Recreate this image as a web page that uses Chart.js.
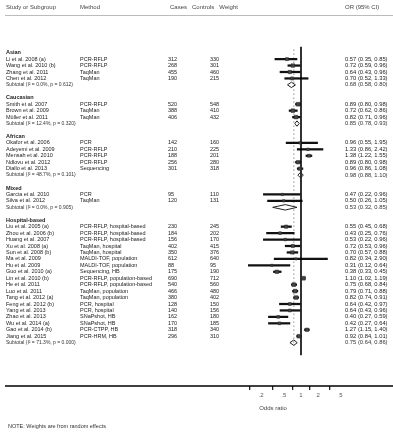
<!DOCTYPE html>
<html><head><meta charset="utf-8">
<script src="https://cdn.jsdelivr.net/npm/chart.js@4.4.1/dist/chart.umd.min.js"></script>
<style>html,body{margin:0;padding:0;background:#fff;}#wrap{width:393px;height:434px;position:relative;}</style>
</head><body><div id="wrap"><canvas id="c" width="393" height="434"></canvas></div>
<script>
const groupNames = ['Asian', 'Caucasian', 'African', 'Mixed', 'Hospital-based'];
const groupSizes = [4, 3, 5, 2, 18];
const studyNames = [
  'Li et al. 2008 (a)', 'Wang et al. 2010 (b)', 'Zhang et al. 2011', 'Chen et al. 2012',
  'Smith et al. 2007', 'Brown et al. 2009', 'Müller et al. 2011',
  'Okafor et al. 2006', 'Adeyemi et al. 2009', 'Mensah et al. 2010', 'Ndlovu et al. 2012', 'Diallo et al. 2013',
  'Garcia et al. 2010', 'Silva et al. 2012',
  'Liu et al. 2005 (a)', 'Zhou et al. 2006 (b)', 'Huang et al. 2007', 'Xu et al. 2008 (a)', 'Sun et al. 2008 (b)', 'Ma et al. 2009',
  'Hu et al. 2009', 'Guo et al. 2010 (a)', 'Lin et al. 2010 (b)', 'He et al. 2011', 'Luo et al. 2011', 'Tang et al. 2012 (a)',
  'Feng et al. 2012 (b)', 'Yang et al. 2013', 'Zhao et al. 2013', 'Wu et al. 2014 (a)', 'Gao et al. 2014 (b)', 'Jiang et al. 2015'
];
const methods = [
  'PCR-RFLP', 'PCR-RFLP', 'TaqMan', 'TaqMan',
  'PCR-RFLP', 'TaqMan', 'TaqMan',
  'PCR', 'PCR-RFLP', 'PCR-RFLP', 'PCR-RFLP', 'Sequencing',
  'PCR', 'TaqMan',
  'PCR-RFLP, hospital-based', 'PCR-RFLP, hospital-based', 'PCR-RFLP, hospital-based', 'TaqMan, hospital',
  'TaqMan, hospital', 'MALDI-TOF, population', 'MALDI-TOF, population', 'Sequencing, HB',
  'PCR-RFLP, population-based', 'PCR-RFLP, population-based', 'TaqMan, population', 'TaqMan, population',
  'PCR, hospital', 'PCR, hospital', 'SNaPshot, HB', 'SNaPshot, HB', 'PCR-CTPP, HB', 'PCR-HRM, HB'
];
const cases = [312, 268, 455, 190, 520, 388, 406, 142, 210, 188, 256, 301, 95, 120,
  230, 184, 156, 402, 350, 612, 88, 175, 690, 540, 466, 380, 128, 140, 162, 170, 318, 296];
const controls = [330, 301, 460, 215, 548, 410, 432, 160, 225, 201, 280, 318, 110, 131,
  245, 202, 170, 415, 376, 640, 95, 190, 712, 560, 480, 402, 150, 156, 180, 185, 340, 310];
const oddsRatio = [0.57, 0.72, 0.64, 0.70, 0.89, 0.72, 0.82, 0.96, 1.33, 1.38, 0.89, 0.96, 0.47, 0.50,
  0.55, 0.43, 0.53, 0.72, 0.70, 0.82, 0.31, 0.38, 1.10, 0.75, 0.79, 0.82, 0.64, 0.64, 0.40, 0.42, 1.27, 0.92];
const ciLow = [0.35, 0.59, 0.43, 0.52, 0.80, 0.62, 0.71, 0.55, 0.86, 1.22, 0.80, 0.86, 0.22, 0.26,
  0.45, 0.25, 0.22, 0.53, 0.57, 0.34, 0.12, 0.33, 1.02, 0.68, 0.71, 0.74, 0.42, 0.43, 0.27, 0.27, 1.15, 0.84];
const ciHigh = [0.85, 0.96, 0.96, 1.33, 0.98, 0.86, 0.96, 1.95, 2.42, 1.55, 0.98, 1.08, 0.96, 1.05,
  0.68, 0.76, 0.96, 0.96, 0.88, 2.90, 0.64, 0.45, 1.19, 0.84, 0.88, 0.91, 0.97, 0.96, 0.59, 0.64, 1.40, 1.01];
const weights = [3.1, 4.0, 3.6, 3.2, 4.4, 4.2, 4.1, 2.0, 2.3, 3.0, 3.9, 3.8, 1.8, 1.9,
  3.5, 2.6, 2.2, 3.3, 3.6, 1.4, 1.6, 3.9, 4.5, 4.3, 4.3, 4.2, 2.8, 2.9, 2.7, 2.7, 3.8, 4.2];
const subtotalOR = [0.68, 0.85, 0.98, 0.53, 0.75];
const subtotalLow = [0.58, 0.78, 0.88, 0.32, 0.64];
const subtotalHigh = [0.80, 0.93, 1.10, 0.85, 0.86];
const subtotalI2 = ['0.0%', '12.4%', '48.7%', '0.0%', '71.3%'];
const subtotalP = ['0.612', '0.320', '0.101', '0.905', '0.000'];
const overallOR = 0.75;
const headerTexts = ['Study or Subgroup', 'Method', 'Cases   Controls   Weight', 'OR (95% CI)'];
const tickValues = [0.2, 0.5, 1, 2, 5];
const tickLabels = ['.2', '.5', '1', '2', '5'];
const axisTitle = 'Odds ratio';
const footnote = 'NOTE: Weights are from random effects';

const rows = [];
let slot = 0, s = 0;
groupSizes.forEach((n, g) => {
  rows.push({kind: 'group', slot: slot++, g});
  for (let k = 0; k < n; k++, s++) rows.push({kind: 'study', slot: slot++, i: s});
  rows.push({kind: 'sub', slot: slot++, g});
  if (g < groupSizes.length - 1) slot++;
});
const lastSlot = slot - 1;

const fmt = (v) => v.toFixed(2);
const ciText = (o, l, h) => fmt(o) + ' (' + fmt(l) + ', ' + fmt(h) + ')';

const studyRows = rows.filter(r => r.kind === 'study');
const subRows = rows.filter(r => r.kind === 'sub');

const datasets = [];
datasets.push({
  type: 'bar', indexAxis: 'y', label: 'CI',
  data: studyRows.map(r => ({y: r.slot, x: [ciLow[r.i], ciHigh[r.i]]})),
  backgroundColor: '#111', borderWidth: 0, barThickness: 1.6, order: 3
});
datasets.push({
  type: 'scatter', label: 'OR',
  data: studyRows.map(r => ({x: oddsRatio[r.i], y: r.slot})),
  pointStyle: 'rect',
  pointRadius: studyRows.map(r => 0.9 + weights[r.i] * 0.4),
  backgroundColor: '#444', borderColor: '#222', borderWidth: 0.5, order: 1
});
subRows.forEach(r => {
  const g = r.g;
  datasets.push({
    type: 'scatter', label: 'Subtotal ' + g, showLine: true,
    data: [
      {x: subtotalLow[g], y: r.slot}, {x: subtotalOR[g], y: r.slot - 0.42},
      {x: subtotalHigh[g], y: r.slot}, {x: subtotalOR[g], y: r.slot + 0.42},
      {x: subtotalLow[g], y: r.slot}
    ],
    borderColor: '#222', borderWidth: 1, pointRadius: 0, fill: false, tension: 0, order: 0
  });
});
datasets.push({
  type: 'scatter', indexAxis: 'y', label: 'Overall', showLine: true,
  data: [{x: overallOR, y: -0.5}, {x: overallOR, y: lastSlot + 0.5}],
  borderColor: '#777', borderWidth: 0.8, borderDash: [1.5, 2.5], pointRadius: 0, order: 4
});
datasets.push({
  type: 'scatter', indexAxis: 'y', label: 'Null', showLine: true,
  data: [{x: 1, y: -0.905}, {x: 1, y: 46.94}],
  borderColor: '#000', borderWidth: 1.6, pointRadius: 0, order: 2
});

const tablePlugin = {
  id: 'tableText',
  afterDraw(chart) {
    const ctx = chart.ctx, ys = chart.scales.y, area = chart.chartArea;
    ctx.save();
    ctx.textBaseline = 'middle';
    ctx.textAlign = 'left';
    ctx.fillStyle = '#444';
    ctx.font = '6px "Liberation Sans", Arial, sans-serif';
    ctx.fillText(headerTexts[0], 6, 7);
    ctx.fillText(headerTexts[1], 80, 7);
    ctx.fillText(headerTexts[2], 170, 7);
    ctx.fillText(headerTexts[3], 345, 7);
    ctx.strokeStyle = '#aaa'; ctx.lineWidth = 0.8;
    ctx.beginPath(); ctx.moveTo(5, 15.5); ctx.lineTo(393, 15.5); ctx.stroke();
    rows.forEach(r => {
      const y = ys.getPixelForValue(r.slot);
      if (r.kind === 'group') {
        ctx.fillStyle = '#222';
        ctx.font = 'bold 5.5px "Liberation Sans", Arial, sans-serif';
        ctx.fillText(groupNames[r.g], 6, y);
      } else if (r.kind === 'study') {
        const i = r.i;
        ctx.fillStyle = '#222';
        ctx.font = '5.5px "Liberation Sans", Arial, sans-serif';
        ctx.fillText(studyNames[i], 6, y);
        ctx.fillText(methods[i], 80, y);
        ctx.fillText(String(cases[i]), 168, y);
        ctx.fillText(String(controls[i]), 210, y);
        ctx.font = '5.8px "Liberation Sans", Arial, sans-serif';
        ctx.fillText(ciText(oddsRatio[i], ciLow[i], ciHigh[i]), 345, y);
      } else {
        const g = r.g;
        ctx.fillStyle = '#333';
        ctx.font = '5px "Liberation Sans", Arial, sans-serif';
        ctx.fillText('Subtotal (I² = ' + subtotalI2[g] + ', p = ' + subtotalP[g] + ')', 6, y);
        ctx.font = '5.8px "Liberation Sans", Arial, sans-serif';
        ctx.fillText(ciText(subtotalOR[g], subtotalLow[g], subtotalHigh[g]), 345, y);
      }
    });
    ctx.strokeStyle = '#000'; ctx.lineWidth = 1.6;
    ctx.beginPath(); ctx.moveTo(5, area.bottom); ctx.lineTo(393, area.bottom); ctx.stroke();
    ctx.fillStyle = '#333';
    ctx.font = '5.5px "Liberation Sans", Arial, sans-serif';
    ctx.fillText(footnote, 8, 426);
    ctx.restore();
  }
};

new Chart(document.getElementById('c'), {
  type: 'bar',
  data: {datasets},
  options: {
    responsive: false, animation: false, devicePixelRatio: 1,
    layout: {padding: {left: 198, right: 45, top: 16, bottom: 20}},
    plugins: {legend: {display: false}, tooltip: {enabled: false}},
    scales: {
      x: {
        type: 'logarithmic', position: 'bottom',
        min: 0.01583, max: 6.632,
        afterBuildTicks: (sc) => { sc.ticks = tickValues.map(v => ({value: v})); },
        afterFit: (sc) => { sc.height = 28; },
        ticks: {
          autoSkip: false, maxRotation: 0, padding: 2, color: '#555',
          font: {size: 6, family: '"Liberation Sans", Arial, sans-serif'},
          callback: (v) => { const k = tickValues.indexOf(v); return k >= 0 ? tickLabels[k] : ''; }
        },
        grid: {display: true, drawOnChartArea: false, drawTicks: true, tickLength: 4, color: '#222', lineWidth: 1.3},
        border: {display: false},
        title: {display: true, text: axisTitle, color: '#444', padding: {top: 1, bottom: 2},
          font: {size: 6, family: '"Liberation Sans", Arial, sans-serif'}}
      },
      y: {
        type: 'linear', reverse: true, min: -0.905, max: 46.94, display: false
      }
    }
  },
  plugins: [tablePlugin]
});
</script>
</body></html>
